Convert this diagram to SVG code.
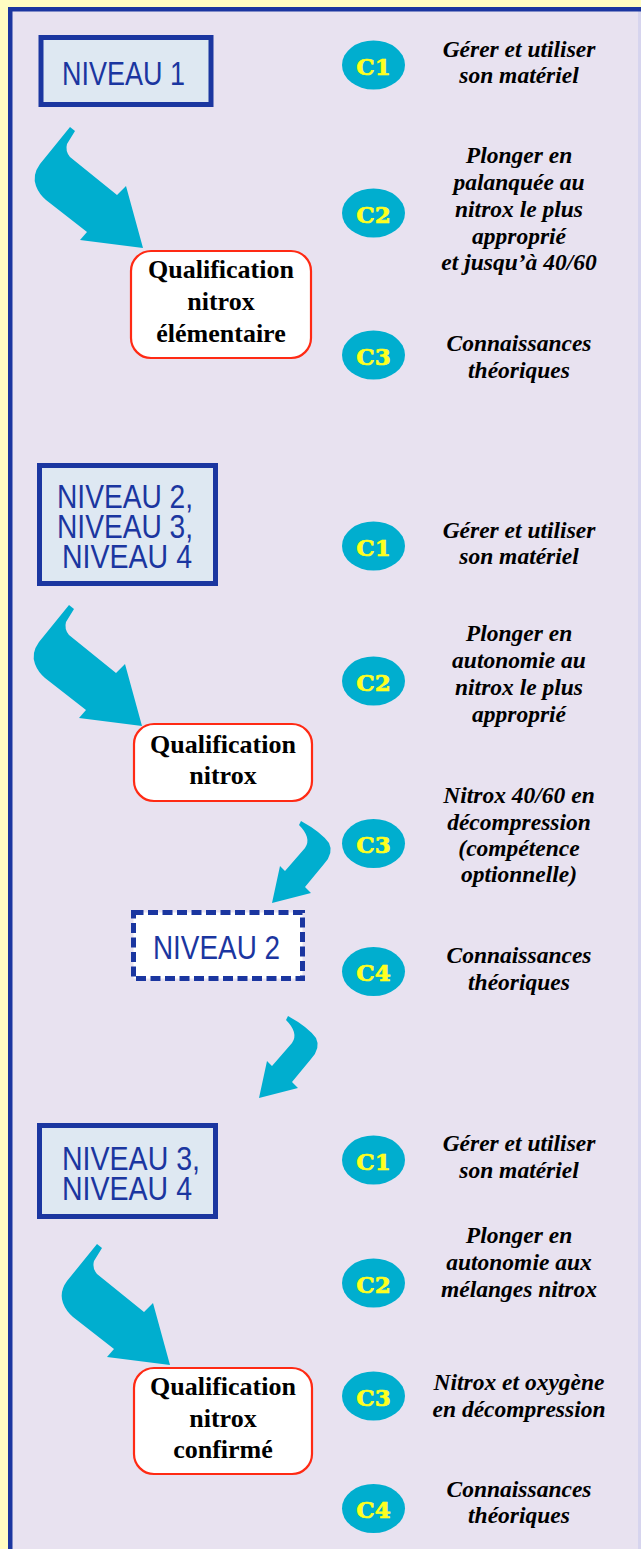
<svg xmlns="http://www.w3.org/2000/svg" width="641" height="1549" viewBox="0 0 641 1549">
<defs>
<style>
.niv{fill:#DEE8F2;stroke:#1B36A0;stroke-width:5}
.nivd{fill:#FFFFFF;stroke:#1B36A0;stroke-width:5;stroke-dasharray:10 4.5}
.nt{font-size:33px;fill:#1B36A0}
.q{fill:#FFFFFF;stroke:#FF2A14;stroke-width:2.2}
.qt{font-size:26px;font-weight:bold;fill:#000;text-anchor:middle}
.ell{fill:#00AECF}
.ct{font-size:23px;font-weight:bold;fill:#FFFF1E;stroke:#FFFF1E;stroke-width:0.7;text-anchor:middle}
.rt{font-size:23.5px;font-weight:bold;font-style:italic;fill:#000;text-anchor:middle}
.arr{fill:#00AECF}
</style>
<path id="bigArrow" d="M70,127 L40,164 Q32,175 36,186 Q39,194 46,200 L87,232 L80,240 L143,248 L126,186 L117,195 L70,157 Q65,151 67,144 L75,131 Z"/>
<path id="smallArrow" d="M301,821 Q321,832 329,843 Q334,853 324,864 L305,887 L311,893 L272,903 L280,866 L285,871 L305,848 Q312,838 299,825 Z"/>
</defs>
<rect x="0" y="0" width="641" height="1549" fill="#FFFDC2"/>
<rect x="8" y="7" width="633" height="1542" fill="#E8E2F0"/>
<rect x="638" y="11" width="3" height="1538" fill="#D6D4EE"/>
<rect x="8" y="7" width="633" height="4.5" fill="#1B36A0"/>
<rect x="8" y="7" width="4.5" height="1542" fill="#1B36A0"/>

<g id="connectors">
<use href="#bigArrow" class="arr"/>
<use href="#bigArrow" class="arr" transform="translate(-1,478)"/>
<use href="#smallArrow" class="arr"/>
<use href="#smallArrow" class="arr" transform="translate(-13,195)"/>
<use href="#bigArrow" class="arr" transform="translate(27,1117)"/>
</g>

<g font-family="'Liberation Sans', Arial, sans-serif">
<g id="niveau1">
<rect class="niv" x="41" y="37.5" width="170" height="67"/>
<text class="nt" x="62" y="85" textLength="123" lengthAdjust="spacingAndGlyphs">NIVEAU 1</text>
</g>
<g id="niveau234">
<rect class="niv" x="39.5" y="465.5" width="176" height="118"/>
<text class="nt" x="57" y="508" textLength="136" lengthAdjust="spacingAndGlyphs">NIVEAU 2,</text>
<text class="nt" x="57" y="538" textLength="136" lengthAdjust="spacingAndGlyphs">NIVEAU 3,</text>
<text class="nt" x="62" y="568" textLength="130" lengthAdjust="spacingAndGlyphs">NIVEAU 4</text>
</g>
<g id="niveau2-dashed">
<rect class="nivd" x="133.5" y="912.5" width="169" height="66"/>
<text class="nt" x="153" y="959" textLength="127" lengthAdjust="spacingAndGlyphs">NIVEAU 2</text>
</g>
<g id="niveau34">
<rect class="niv" x="39.5" y="1125.5" width="176" height="91"/>
<text class="nt" x="62" y="1170" textLength="138" lengthAdjust="spacingAndGlyphs">NIVEAU 3,</text>
<text class="nt" x="62" y="1200" textLength="130" lengthAdjust="spacingAndGlyphs">NIVEAU 4</text>
</g>
</g>

<g font-family="'Liberation Serif', 'Times New Roman', Times, serif">
<g id="qual-elementaire">
<rect class="q" x="131" y="251" width="180" height="107" rx="20"/>
<text class="qt" x="221" y="278" textLength="146" lengthAdjust="spacingAndGlyphs">Qualification</text>
<text class="qt" x="221" y="310">nitrox</text>
<text class="qt" x="221" y="342">élémentaire</text>
</g>
<g id="qual-nitrox">
<rect class="q" x="134" y="724" width="178" height="77" rx="20"/>
<text class="qt" x="223" y="753" textLength="146" lengthAdjust="spacingAndGlyphs">Qualification</text>
<text class="qt" x="223" y="784">nitrox</text>
</g>
<g id="qual-confirme">
<rect class="q" x="134" y="1368" width="178" height="106" rx="20"/>
<text class="qt" x="223" y="1395" textLength="146" lengthAdjust="spacingAndGlyphs">Qualification</text>
<text class="qt" x="223" y="1427">nitrox</text>
<text class="qt" x="223" y="1458">confirmé</text>
</g>

<g id="b1-c1">
<ellipse class="ell" cx="373.5" cy="65" rx="31.5" ry="24.5"/>
<text class="ct" font-family="'DejaVu Serif', serif" x="373.5" y="74.5">C1</text>
<text class="rt" x="519" y="57">Gérer et utiliser</text>
<text class="rt" x="519" y="83">son matériel</text>
</g>
<g id="b1-c2">
<ellipse class="ell" cx="373.5" cy="213" rx="31.5" ry="24.5"/>
<text class="ct" font-family="'DejaVu Serif', serif" x="373.5" y="222.5">C2</text>
<text class="rt" x="519" y="163">Plonger en</text>
<text class="rt" x="519" y="190">palanquée au</text>
<text class="rt" x="519" y="217">nitrox le plus</text>
<text class="rt" x="519" y="244">approprié</text>
<text class="rt" x="519" y="270">et jusqu’à 40/60</text>
</g>
<g id="b1-c3">
<ellipse class="ell" cx="373.5" cy="355" rx="31.5" ry="24.5"/>
<text class="ct" font-family="'DejaVu Serif', serif" x="373.5" y="364.5">C3</text>
<text class="rt" x="519" y="351">Connaissances</text>
<text class="rt" x="519" y="378">théoriques</text>
</g>
<g id="b2-c1">
<ellipse class="ell" cx="373.5" cy="546" rx="31.5" ry="24.5"/>
<text class="ct" font-family="'DejaVu Serif', serif" x="373.5" y="555.5">C1</text>
<text class="rt" x="519" y="538">Gérer et utiliser</text>
<text class="rt" x="519" y="564">son matériel</text>
</g>
<g id="b2-c2">
<ellipse class="ell" cx="373.5" cy="681" rx="31.5" ry="24.5"/>
<text class="ct" font-family="'DejaVu Serif', serif" x="373.5" y="690.5">C2</text>
<text class="rt" x="519" y="641">Plonger en</text>
<text class="rt" x="519" y="668">autonomie au</text>
<text class="rt" x="519" y="695">nitrox le plus</text>
<text class="rt" x="519" y="722">approprié</text>
</g>
<g id="b2-c3">
<ellipse class="ell" cx="373.5" cy="843.5" rx="31.5" ry="24.5"/>
<text class="ct" font-family="'DejaVu Serif', serif" x="373.5" y="853">C3</text>
<text class="rt" x="519" y="803">Nitrox 40/60 en</text>
<text class="rt" x="519" y="830">décompression</text>
<text class="rt" x="519" y="856">(compétence</text>
<text class="rt" x="519" y="882">optionnelle)</text>
</g>
<g id="b2-c4">
<ellipse class="ell" cx="373.5" cy="971.5" rx="31.5" ry="24.5"/>
<text class="ct" font-family="'DejaVu Serif', serif" x="373.5" y="981">C4</text>
<text class="rt" x="519" y="963">Connaissances</text>
<text class="rt" x="519" y="990">théoriques</text>
</g>
<g id="b3-c1">
<ellipse class="ell" cx="373.5" cy="1160" rx="31.5" ry="24.5"/>
<text class="ct" font-family="'DejaVu Serif', serif" x="373.5" y="1169.5">C1</text>
<text class="rt" x="519" y="1151">Gérer et utiliser</text>
<text class="rt" x="519" y="1178">son matériel</text>
</g>
<g id="b3-c2">
<ellipse class="ell" cx="373.5" cy="1283" rx="31.5" ry="24.5"/>
<text class="ct" font-family="'DejaVu Serif', serif" x="373.5" y="1292.5">C2</text>
<text class="rt" x="519" y="1243">Plonger en</text>
<text class="rt" x="519" y="1270">autonomie aux</text>
<text class="rt" x="519" y="1297">mélanges nitrox</text>
</g>
<g id="b3-c3">
<ellipse class="ell" cx="373.5" cy="1396" rx="31.5" ry="24.5"/>
<text class="ct" font-family="'DejaVu Serif', serif" x="373.5" y="1405.5">C3</text>
<text class="rt" x="519" y="1390">Nitrox et oxygène</text>
<text class="rt" x="519" y="1417">en décompression</text>
</g>
<g id="b3-c4">
<ellipse class="ell" cx="373.5" cy="1508.5" rx="31.5" ry="24.5"/>
<text class="ct" font-family="'DejaVu Serif', serif" x="373.5" y="1518">C4</text>
<text class="rt" x="519" y="1497">Connaissances</text>
<text class="rt" x="519" y="1523">théoriques</text>
</g>
</g>
</svg>
